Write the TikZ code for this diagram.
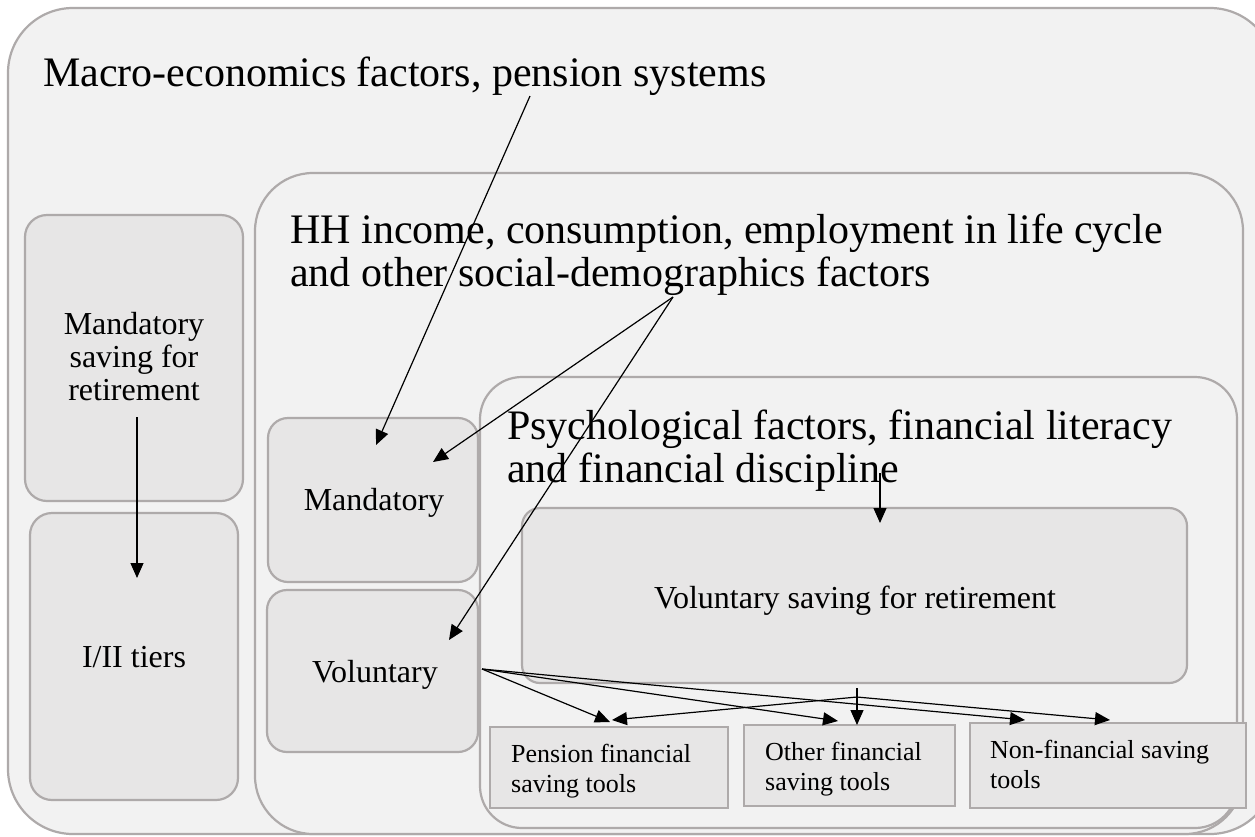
\documentclass[tikz,border=0pt]{standalone}
\usepackage{fontspec}
\setmainfont{Liberation Serif}
\usetikzlibrary{arrows.meta}
\definecolor{edgegray}{RGB}{174,170,170}
\definecolor{lightfill}{RGB}{242,242,242}
\definecolor{midfill}{RGB}{231,230,230}
\begin{document}
\begin{tikzpicture}[x=1pt,y=-1pt,
  panel/.style={draw=edgegray,line width=2.2pt,fill=lightfill,anchor=north west,inner sep=0pt,outer sep=0pt},
  subpanel/.style={panel,fill=midfill},
  toolbox/.style={draw=edgegray,line width=1.6pt,fill=midfill,anchor=north west,inner sep=0pt,outer sep=0pt},
  bigtext/.style={anchor=base west,inner sep=0pt,align=left,font=\fontsize{42}{43}\selectfont},
  midtext/.style={anchor=base,inner sep=0pt,align=center,font=\fontsize{32}{33}\selectfont},
  smalltext/.style={anchor=base west,inner sep=0pt,align=left,font=\fontsize{26}{30}\selectfont},
  conn/.style={line width=1.2pt,-{Triangle[length=15pt,width=13pt]}}]
\useasboundingbox (0,0) rectangle (1255,836);
\clip (0,0) rectangle (1255,836);
\fill[white] (0,0) rectangle (1255,836);
% boxes
\node[panel,rounded corners=65pt,minimum width=1267pt,minimum height=826pt] (outer) at (8,8) {};
\node[subpanel,rounded corners=22pt,minimum width=218pt,minimum height=286pt] (mandret) at (25,215) {};
\node[subpanel,rounded corners=22pt,minimum width=208pt,minimum height=287pt] (tiers) at (30,513) {};
\node[panel,rounded corners=58pt,minimum width=988pt,minimum height=661pt] (hh) at (255,173) {};
\node[subpanel,rounded corners=20pt,minimum width=210pt,minimum height=164pt] (mand) at (268,418) {};
\node[subpanel,rounded corners=20pt,minimum width=211pt,minimum height=162pt] (vol) at (267,590) {};
\node[panel,rounded corners=42pt,minimum width=757pt,minimum height=451pt] (psych) at (480,377) {};
\node[subpanel,rounded corners=18pt,minimum width=665pt,minimum height=175pt] (vsr) at (522,508) {};
\node[toolbox,minimum width=238pt,minimum height=81pt] (pens) at (490,727) {};
\node[toolbox,minimum width=211pt,minimum height=81pt] (other) at (744,725) {};
\node[toolbox,minimum width=276pt,minimum height=85pt] (nonfin) at (970,723) {};
% texts (base = baseline of last line)
\node[bigtext] (outerT) at (43,86) {Macro-economics factors, pension systems};
\node[bigtext] (hhT) at (290,286) {HH income, consumption, employment in life cycle\\and other social-demographics factors};
\node[bigtext] (psychT) at (507,482) {Psychological factors, financial literacy\\and financial discipline};
\node[midtext] (mandretT) at (134,400) {Mandatory\\saving for\\retirement};
\node[midtext] (tiersT) at (134,667) {I/II tiers};
\node[midtext] (mandT) at (374,510) {Mandatory};
\node[midtext] (volT) at (375,682) {Voluntary};
\node[midtext] (vsrT) at (855,608) {Voluntary saving for retirement};
\node[smalltext] (pensT) at (511,792) {Pension financial\\saving tools};
\node[smalltext] (otherT) at (765,790) {Other financial\\saving tools};
\node[smalltext] (nonfinT) at (990,788) {Non-financial saving\\tools};
% connector end points
\coordinate (macroOut) at (530,96);
\coordinate (mandInA) at (376,445);
\coordinate (hhOut) at (673,297);
\coordinate (mandInB) at (433,462);
\coordinate (volIn) at (449,640);
\coordinate (mandretOut) at (137,417);
\coordinate (tiersIn) at (137,578);
\coordinate (psychOut) at (880,473);
\coordinate (vsrIn) at (880,523);
\coordinate (vsrOut) at (857,688);
\coordinate (vsrSplit) at (857,697);
\coordinate (volOut) at (482,669);
\coordinate (pensInA) at (610,722);
\coordinate (pensInB) at (612,720);
\coordinate (otherInA) at (838,721);
\coordinate (otherInB) at (857,725);
\coordinate (nonfinInA) at (1025,720);
\coordinate (nonfinInB) at (1110,720);
% connectors
\draw[conn] (macroOut) -- (mandInA);
\draw[conn] (hhOut) -- (mandInB);
\draw[conn] (hhOut) -- (volIn);
\draw[conn] (mandretOut) -- (tiersIn);
\draw[conn] (psychOut) -- (vsrIn);
\draw[conn] (vsrOut) -- (otherInB);
\draw[conn] (vsrSplit) -- (pensInB);
\draw[conn] (vsrSplit) -- (nonfinInB);
\draw[conn] (volOut) -- (pensInA);
\draw[conn] (volOut) -- (otherInA);
\draw[conn] (volOut) -- (nonfinInA);
\end{tikzpicture}
\end{document}
